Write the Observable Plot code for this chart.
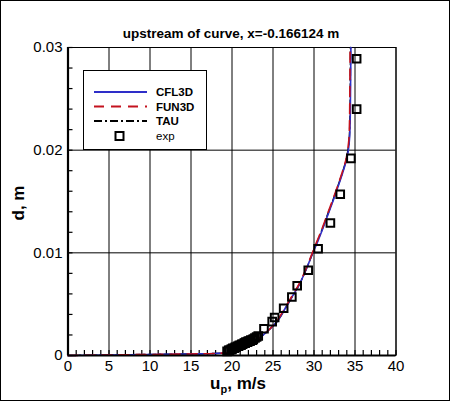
<!DOCTYPE html>
<html>
<head>
<meta charset="utf-8">
<script src="https://cdn.jsdelivr.net/npm/d3@7"></script>
<script src="https://cdn.jsdelivr.net/npm/@observablehq/plot@0.6"></script>
<style>
  html, body { margin: 0; padding: 0; background: white; }
  #chart svg { display: block; }
</style>
</head>
<body>
<div id="chart"></div>
<script>
const title = "upstream of curve, x=-0.166124 m";
const seriesNames = ["CFL3D", "FUN3D", "TAU", "exp"];

const cfl3dU = [0, 5, 10, 15, 18, 19.5, 20.5, 21.5, 22.5, 23.5, 24.5, 25.5, 26.5, 27.4, 28.2, 29.0, 29.8, 30.4, 31.0, 31.6, 32.3, 33.0, 33.5, 33.9, 34.15, 34.3, 34.4, 34.45, 34.5];
const cfl3dD = [0, 0.00005, 0.0001, 0.00015, 0.0002, 0.0003, 0.0005, 0.0008, 0.0012, 0.0018, 0.0025, 0.0033, 0.0046, 0.0058, 0.0069, 0.0083, 0.0099, 0.0110, 0.0122, 0.0135, 0.0150, 0.0166, 0.0178, 0.0189, 0.0198, 0.0208, 0.0225, 0.0255, 0.0300];

const fun3dU = [0, 5, 10, 15, 18, 19.5, 20.5, 21.5, 22.5, 23.5, 24.5, 25.5, 26.5, 27.4, 28.2, 29.0, 29.8, 30.4, 31.0, 31.6, 32.3, 33.0, 33.5, 33.9, 34.1, 34.25, 34.33, 34.37, 34.4];
const fun3dD = [0, 0.00005, 0.0001, 0.00015, 0.0002, 0.0003, 0.0005, 0.0008, 0.0012, 0.0018, 0.0025, 0.0034, 0.0047, 0.0059, 0.0070, 0.0084, 0.0100, 0.0112, 0.0124, 0.0137, 0.0152, 0.0168, 0.0180, 0.0191, 0.0200, 0.0210, 0.0227, 0.0257, 0.0300];

const tauU = [0, 5, 10, 15, 18, 19.5, 20.5, 21.5, 22.5, 23.5, 24.5, 25.5, 26.5, 27.4, 28.2, 29.0, 29.8, 30.4, 31.0, 31.6, 32.3, 33.0, 33.5, 33.9, 34.12, 34.28, 34.37, 34.42, 34.45];
const tauD = [0, 0.00005, 0.0001, 0.00015, 0.0002, 0.0003, 0.0005, 0.0008, 0.0012, 0.0018, 0.0025, 0.0033, 0.0046, 0.0058, 0.0069, 0.0083, 0.0099, 0.0111, 0.0123, 0.0136, 0.0151, 0.0167, 0.0179, 0.0190, 0.0199, 0.0209, 0.0226, 0.0256, 0.0300];

const expU = [19.4, 19.6, 19.7, 19.9, 20.0, 20.1, 20.3, 20.4, 20.5, 20.7, 20.8, 20.9, 21.1, 21.2, 21.3, 21.5, 21.6, 21.7, 21.9, 22.0, 22.2, 22.3, 22.5, 22.6, 22.8, 23.0, 23.2, 23.9, 24.9, 25.2, 26.3, 27.3, 27.95, 29.3, 30.5, 32.0, 33.2, 34.5, 35.2, 35.2];
const expD = [0.0004, 0.0005, 0.0005, 0.0006, 0.0006, 0.0007, 0.0007, 0.0008, 0.0008, 0.0009, 0.0009, 0.0010, 0.0010, 0.0011, 0.0011, 0.0012, 0.0012, 0.0013, 0.0013, 0.0014, 0.0014, 0.0015, 0.0015, 0.0016, 0.0017, 0.0018, 0.0019, 0.0026, 0.0033, 0.0037, 0.0046, 0.0057, 0.0068, 0.0083, 0.0104, 0.0129, 0.0157, 0.0192, 0.0240, 0.0289];

const xMajorTicks = [0, 5, 10, 15, 20, 25, 30, 35, 40];
const xMinorTicks = d3.range(0, 41, 1);
const yMajorTicks = [0, 0.01, 0.02, 0.03];
const yTickLabels = ["0", "0.01", "0.02", "0.03"];
const yMinorTicks = d3.range(0, 16).map(i => i * 0.002);

const toRows = (us, ds) => us.map((u, i) => ({u, d: ds[i]}));
const cfl3d = toRows(cfl3dU, cfl3dD);
const fun3d = toRows(fun3dU, fun3dD);
const tau = toRows(tauU, tauD);
const exp = toRows(expU, expD);

const colors = {CFL3D: "#2e2ec8", FUN3D: "#c4121e", TAU: "#000000", exp: "#000000"};
const font = "'Liberation Sans', Arial, Helvetica, sans-serif";

const W = 450, H = 401;
const mL = 67.5, mR = 54.5, mT = 47, mB = 46;
const innerW = W - mL - mR, innerH = H - mT - mB;
const tickLen = 5;

const chart = Plot.plot({
  width: W,
  height: H,
  marginLeft: mL,
  marginRight: mR,
  marginTop: mT,
  marginBottom: mB,
  style: {fontFamily: font, background: "white", color: "black"},
  x: {domain: [0, 40], label: null},
  y: {domain: [0, 0.03], label: null},
  marks: [
    Plot.gridX(xMajorTicks, {stroke: "black", strokeOpacity: 1, strokeWidth: 1}),
    Plot.gridY(yMajorTicks, {stroke: "black", strokeOpacity: 1, strokeWidth: 1}),
    Plot.frame({stroke: "black", strokeWidth: 1}),
    Plot.tickX(xMinorTicks, {x: d => d, stroke: "black", strokeWidth: 1.2, insetTop: innerH - tickLen}),
    Plot.tickY(yMinorTicks, {y: d => d, stroke: "black", strokeWidth: 1.2, insetRight: innerW - tickLen}),
    Plot.axisX(xMajorTicks, {tickSize: 0, tickPadding: 5, fontSize: 15, label: null, tickFormat: d => String(d)}),
    Plot.axisY(yMajorTicks, {tickSize: 0, tickPadding: 5.5, fontSize: 15, label: null, tickFormat: (d, i) => yTickLabels[i]}),
    Plot.line(tau, {x: "u", y: "d", curve: "catmull-rom", stroke: colors.TAU, strokeWidth: 1.5, strokeDasharray: "8,3,2,3"}),
    Plot.line(cfl3d, {x: "u", y: "d", curve: "catmull-rom", stroke: colors.CFL3D, strokeWidth: 1.6}),
    Plot.line(fun3d, {x: "u", y: "d", curve: "catmull-rom", stroke: colors.FUN3D, strokeWidth: 1.6, strokeDasharray: "10,7"}),
    Plot.dot(exp, {x: "u", y: "d", symbol: "square", r: 4.3, stroke: "black", strokeWidth: 2, fill: "none"}),
    Plot.ruleX([0], {stroke: "black", strokeWidth: 2.2}),
    Plot.ruleY([0], {stroke: "black", strokeWidth: 2.2})
  ]
});

const svg = d3.select(chart);
svg.style("font-family", font);

// outer border
svg.append("rect")
  .attr("x", 0.5).attr("y", 0.5)
  .attr("width", W - 1).attr("height", H - 1)
  .attr("fill", "none").attr("stroke", "black").attr("stroke-width", 1);

// title
svg.append("text")
  .attr("x", 231).attr("y", 38)
  .attr("text-anchor", "middle")
  .attr("font-size", 13.5).attr("font-weight", "bold")
  .attr("fill", "black")
  .text(title);

// axis titles
const xl = svg.append("text")
  .attr("x", 238).attr("y", 389)
  .attr("text-anchor", "middle")
  .attr("font-size", 17).attr("font-weight", "bold")
  .attr("fill", "black");
xl.append("tspan").text("u");
xl.append("tspan").attr("font-size", 11).attr("dy", 4).text("p");
xl.append("tspan").attr("dy", -4).text(", m/s");

svg.append("text")
  .attr("transform", "translate(24,203) rotate(-90)")
  .attr("text-anchor", "middle")
  .attr("font-size", 17).attr("font-weight", "bold")
  .attr("fill", "black")
  .text("d, m");

// legend
const lg = svg.append("g");
lg.append("rect")
  .attr("x", 83.5).attr("y", 70.5).attr("width", 123).attr("height", 79)
  .attr("fill", "white").attr("stroke", "black").attr("stroke-width", 1);
const legendRows = [
  {name: seriesNames[0], y: 92, stroke: colors.CFL3D, dash: null},
  {name: seriesNames[1], y: 106.5, stroke: colors.FUN3D, dash: "10,7"},
  {name: seriesNames[2], y: 121, stroke: colors.TAU, dash: "8,3,2,3"},
  {name: seriesNames[3], y: 136, stroke: null, dash: null}
];
for (const r of legendRows) {
  if (r.stroke) {
    lg.append("line")
      .attr("x1", 94).attr("x2", 147).attr("y1", r.y).attr("y2", r.y)
      .attr("stroke", r.stroke).attr("stroke-width", 2)
      .attr("stroke-dasharray", r.dash);
  } else {
    lg.append("rect")
      .attr("x", 115.5).attr("y", r.y - 4).attr("width", 8).attr("height", 8)
      .attr("fill", "none").attr("stroke", "black").attr("stroke-width", 2);
  }
  lg.append("text")
    .attr("x", 156).attr("y", r.y + 4)
    .attr("text-anchor", "start")
    .attr("font-size", 11.5)
    .attr("font-weight", r.name === "exp" ? "normal" : "bold")
    .attr("fill", "black")
    .text(r.name);
}

document.getElementById("chart").appendChild(chart);
</script>
</body>
</html>
